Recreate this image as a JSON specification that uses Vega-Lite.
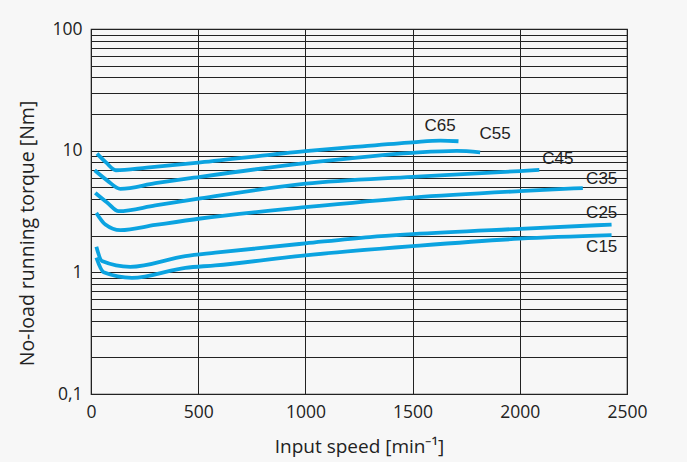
{
  "$schema": "https://vega.github.io/schema/vega-lite/v6.json",
  "width": 536,
  "height": 365,
  "autosize": {"type": "none"},
  "padding": {"left": 91, "top": 29, "right": 60, "bottom": 68},
  "background": "#f7f7f7",
  "config": {
    "view": {"stroke": "#222", "strokeWidth": 1.2, "fill": "#f7f7f7"},
    "axis": {"labelFont": "Open Sans", "titleFont": "Open Sans", "labelColor": "#222", "titleColor": "#222", "titleFontWeight": "normal", "gridColor": "#222", "gridOpacity": 1, "gridWidth": 1, "domainColor": "#222", "ticks": false}
  },
  "datasets": {
    "curves": [
      {"series": "C65", "speed": 28, "torque": 9.46},
      {"series": "C65", "speed": 70, "torque": 8.0},
      {"series": "C65", "speed": 116, "torque": 6.9},
      {"series": "C65", "speed": 260, "torque": 7.25},
      {"series": "C65", "speed": 510, "torque": 8.0},
      {"series": "C65", "speed": 1000, "torque": 9.9},
      {"series": "C65", "speed": 1250, "torque": 10.8},
      {"series": "C65", "speed": 1500, "torque": 11.7},
      {"series": "C65", "speed": 1630, "torque": 12.1},
      {"series": "C65", "speed": 1714, "torque": 11.95},
      {"series": "C55", "speed": 17, "torque": 6.9},
      {"series": "C55", "speed": 75, "torque": 5.7},
      {"series": "C55", "speed": 137, "torque": 4.85},
      {"series": "C55", "speed": 300, "torque": 5.4},
      {"series": "C55", "speed": 510, "torque": 6.1},
      {"series": "C55", "speed": 1000, "torque": 7.9},
      {"series": "C55", "speed": 1500, "torque": 9.6},
      {"series": "C55", "speed": 1706, "torque": 9.95},
      {"series": "C55", "speed": 1815, "torque": 9.7},
      {"series": "C45", "speed": 20, "torque": 4.5},
      {"series": "C45", "speed": 75, "torque": 3.75},
      {"series": "C45", "speed": 129, "torque": 3.18},
      {"series": "C45", "speed": 300, "torque": 3.55},
      {"series": "C45", "speed": 510, "torque": 4.05},
      {"series": "C45", "speed": 1000, "torque": 5.35},
      {"series": "C45", "speed": 1500, "torque": 6.1},
      {"series": "C45", "speed": 2000, "torque": 6.8},
      {"series": "C45", "speed": 2091, "torque": 6.95},
      {"series": "C35", "speed": 25, "torque": 3.08},
      {"series": "C35", "speed": 67, "torque": 2.47},
      {"series": "C35", "speed": 137, "torque": 2.22},
      {"series": "C35", "speed": 300, "torque": 2.45},
      {"series": "C35", "speed": 510, "torque": 2.77},
      {"series": "C35", "speed": 1000, "torque": 3.43},
      {"series": "C35", "speed": 1500, "torque": 4.12},
      {"series": "C35", "speed": 2000, "torque": 4.65},
      {"series": "C35", "speed": 2294, "torque": 4.93},
      {"series": "C25", "speed": 25, "torque": 1.62},
      {"series": "C25", "speed": 51, "torque": 1.24},
      {"series": "C25", "speed": 183, "torque": 1.11},
      {"series": "C25", "speed": 440, "torque": 1.36},
      {"series": "C25", "speed": 580, "torque": 1.45},
      {"series": "C25", "speed": 1000, "torque": 1.73},
      {"series": "C25", "speed": 1300, "torque": 1.95},
      {"series": "C25", "speed": 1500, "torque": 2.06},
      {"series": "C25", "speed": 2000, "torque": 2.28},
      {"series": "C25", "speed": 2428, "torque": 2.47},
      {"series": "C15", "speed": 25, "torque": 1.32},
      {"series": "C15", "speed": 59, "torque": 1.0},
      {"series": "C15", "speed": 191, "torque": 0.9},
      {"series": "C15", "speed": 440, "torque": 1.09},
      {"series": "C15", "speed": 580, "torque": 1.14},
      {"series": "C15", "speed": 1000, "torque": 1.38},
      {"series": "C15", "speed": 1500, "torque": 1.64},
      {"series": "C15", "speed": 2000, "torque": 1.89},
      {"series": "C15", "speed": 2428, "torque": 2.02}
    ],
    "labels": [
      {"series": "C65", "speed": 1628, "torque": 16.1},
      {"series": "C55", "speed": 1885, "torque": 13.6},
      {"series": "C45", "speed": 2177, "torque": 8.57},
      {"series": "C35", "speed": 2382, "torque": 5.87},
      {"series": "C25", "speed": 2382, "torque": 3.09},
      {"series": "C15", "speed": 2382, "torque": 1.62}
    ]
  },
  "layer": [
    {
      "data": {"name": "curves"},
      "mark": {"type": "line", "interpolate": "monotone", "color": "#0ba3e0", "strokeWidth": 3.8, "strokeCap": "butt"},
      "encoding": {
        "x": {
          "field": "speed", "type": "quantitative",
          "scale": {"domain": [0, 2500], "nice": false},
          "axis": {"values": [0, 500, 1000, 1500, 2000, 2500], "format": "d", "grid": true, "labelFontSize": 17.5, "labelPadding": 9, "title": "Input speed [min⁻¹]", "titleFontSize": 19, "titlePadding": 17, "labelFlush": false}
        },
        "y": {
          "field": "torque", "type": "quantitative",
          "scale": {"type": "log", "domain": [0.1, 100], "nice": false},
          "axis": {
            "values": [0.1, 0.2, 0.3, 0.4, 0.5, 0.6, 0.7, 0.8, 0.9, 1, 2, 3, 4, 5, 6, 7, 8, 9, 10, 20, 30, 40, 50, 60, 70, 80, 90, 100],
            "grid": true,
            "labelExpr": "datum.value == 0.1 ? '0,1' : datum.value == 1 ? '1' : datum.value == 10 ? '10' : datum.value == 100 ? '100' : ''",
            "labelFontSize": 17.5, "labelPadding": 9, "labelFlush": false,
            "title": "No-load running torque [Nm]", "titleFontSize": 19.5,
            "titleX": -64, "titleY": 204, "titleAngle": -90, "titleAlign": "center", "titleBaseline": "middle"
          }
        },
        "detail": {"field": "series"}
      }
    },
    {
      "data": {"name": "labels"},
      "mark": {"type": "text", "font": "Liberation Sans", "fontSize": 17, "color": "#222", "align": "center", "baseline": "middle"},
      "encoding": {
        "x": {"field": "speed", "type": "quantitative"},
        "y": {"field": "torque", "type": "quantitative"},
        "text": {"field": "series"}
      }
    }
  ]
}
